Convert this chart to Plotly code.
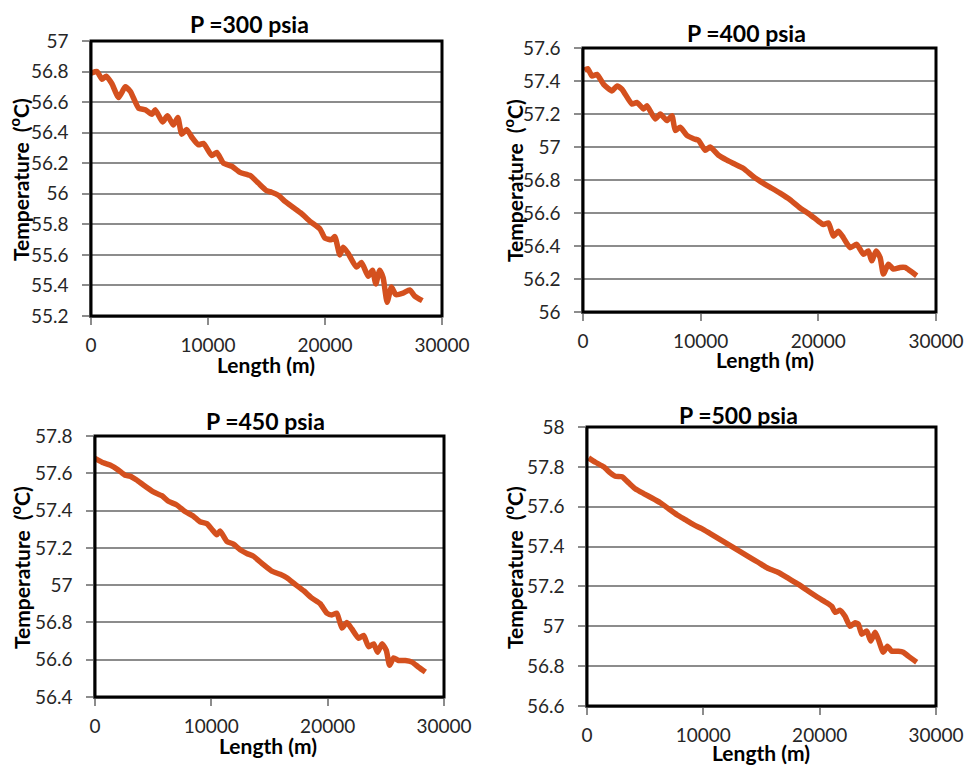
import plotly.graph_objects as go

# ---------------- data ----------------
len_300 = [0, 510, 940, 1310, 1790, 2360, 2930, 3360, 4070, 4640, 5200, 5490, 6110, 6540, 7050, 7420,
           7760, 8190, 8620, 9190, 9610, 10320, 10750, 11320, 12030, 12740, 13590, 14300, 15010, 15440,
           16010, 16580, 17290, 18000, 18710, 19570, 19990, 20560, 20840, 21270, 21560, 21980, 22690,
           23120, 23690, 24060, 24340, 24680, 24970, 25310, 25680, 26050, 26670, 27240, 27670, 28320]
temp_300 = [56.79, 56.80, 56.75, 56.77, 56.72, 56.63, 56.70, 56.67, 56.56, 56.55, 56.52, 56.55, 56.47, 56.51,
            56.45, 56.50, 56.39, 56.42, 56.37, 56.32, 56.33, 56.25, 56.27, 56.20, 56.18, 56.14, 56.12, 56.07,
            56.02, 56.01, 55.99, 55.95, 55.91, 55.87, 55.82, 55.77, 55.71, 55.70, 55.72, 55.60, 55.65, 55.61,
            55.52, 55.55, 55.46, 55.50, 55.41, 55.50, 55.45, 55.29, 55.39, 55.34, 55.35, 55.37, 55.33, 55.30]

len_400 = [100, 400, 760, 1190, 1750, 2460, 2890, 3310, 4160, 4580, 5150, 5430, 6140, 6570, 7130, 7560,
           7840, 8260, 8830, 9400, 9820, 10390, 10810, 11520, 12230, 12790, 13640, 14490, 15340, 16050,
           16750, 17600, 18450, 19300, 20010, 20430, 20860, 21280, 21710, 22130, 22700, 23260, 23830,
           24250, 24540, 24910, 25250, 25530, 25950, 26380, 26940, 27370, 27790, 28360]
temp_400 = [57.465, 57.475, 57.43, 57.44, 57.38, 57.34, 57.37, 57.35, 57.26, 57.27, 57.23, 57.25, 57.17,
            57.20, 57.16, 57.19, 57.10, 57.12, 57.07, 57.05, 57.04, 56.98, 57.00, 56.95, 56.92, 56.90,
            56.87, 56.82, 56.78, 56.75, 56.72, 56.68, 56.63, 56.59, 56.55, 56.53, 56.54, 56.46, 56.49,
            56.45, 56.39, 56.41, 56.35, 56.37, 56.31, 56.37, 56.33, 56.23, 56.29, 56.26, 56.27, 56.27,
            56.25, 56.22]

len_450 = [0, 720, 1290, 2010, 2580, 3010, 3580, 4160, 5020, 5740, 6310, 7030, 7740, 8460, 9030, 9610,
           10040, 10470, 10750, 11330, 11900, 12480, 13050, 13620, 14480, 15200, 15920, 16490, 17210,
           17930, 18650, 19360, 19930, 20360, 20790, 21220, 21650, 22080, 22660, 23090, 23520, 23950,
           24290, 24660, 25040, 25320, 25670, 26100, 26670, 27250, 27820, 28400]
temp_450 = [57.68, 57.656, 57.644, 57.617, 57.59, 57.585, 57.564, 57.537, 57.50, 57.48, 57.45, 57.43,
            57.395, 57.37, 57.34, 57.33, 57.30, 57.27, 57.29, 57.235, 57.22, 57.19, 57.17, 57.155, 57.11,
            57.075, 57.058, 57.04, 57.004, 56.97, 56.93, 56.90, 56.85, 56.84, 56.85, 56.77, 56.80, 56.765,
            56.715, 56.73, 56.67, 56.685, 56.64, 56.685, 56.65, 56.57, 56.61, 56.596, 56.596, 56.587,
            56.56, 56.534]

len_500 = [140, 720, 1430, 2000, 2430, 3010, 3580, 4150, 4870, 5580, 6300, 7010, 7730, 8440, 9160, 9870,
           10590, 11310, 12170, 13030, 13880, 14740, 15600, 16460, 17320, 18180, 19040, 19900, 20610,
           21040, 21330, 21760, 22180, 22610, 23040, 23330, 23620, 24050, 24390, 24760, 25040, 25470,
           25820, 26190, 26760, 27190, 27620, 28340]
temp_500 = [57.845, 57.823, 57.80, 57.77, 57.753, 57.75, 57.72, 57.69, 57.666, 57.644, 57.62, 57.59,
            57.56, 57.535, 57.51, 57.49, 57.465, 57.44, 57.41, 57.38, 57.35, 57.32, 57.29, 57.27, 57.24,
            57.21, 57.176, 57.143, 57.118, 57.10, 57.07, 57.08, 57.05, 57.00, 57.018, 57.01, 56.96,
            56.976, 56.926, 56.97, 56.935, 56.87, 56.90, 56.875, 56.875, 56.87, 56.85, 56.82]

titles = ["P =300 psia", "P =400 psia", "P =450 psia", "P =500 psia"]
x_ticks = [0, 10000, 20000, 30000]
x_ticktext = ["0", "10000", "20000", "30000"]
y_ticks_300 = [55.2, 55.4, 55.6, 55.8, 56.0, 56.2, 56.4, 56.6, 56.8, 57.0]
y_ticktext_300 = ["55.2", "55.4", "55.6", "55.8", "56", "56.2", "56.4", "56.6", "56.8", "57"]
y_ticks_400 = [56.0, 56.2, 56.4, 56.6, 56.8, 57.0, 57.2, 57.4, 57.6]
y_ticktext_400 = ["56", "56.2", "56.4", "56.6", "56.8", "57", "57.2", "57.4", "57.6"]
y_ticks_450 = [56.4, 56.6, 56.8, 57.0, 57.2, 57.4, 57.6, 57.8]
y_ticktext_450 = ["56.4", "56.6", "56.8", "57", "57.2", "57.4", "57.6", "57.8"]
y_ticks_500 = [56.6, 56.8, 57.0, 57.2, 57.4, 57.6, 57.8, 58.0]
y_ticktext_500 = ["56.6", "56.8", "57", "57.2", "57.4", "57.6", "57.8", "58"]
x_title = "Length (m)"
y_title = "Temperature  (<sup>o</sup>C)"

# ---------------- layout helpers ----------------
W, H = 967, 765
FONT = "Lato"
LINE_COLOR = "#D4501E"
LABEL_PAD = "\u00a0" * 2      # gap between y tick labels and the axis


def px_x(p):
    return p / W


def px_y(p):
    return 1 - p / H


# plot-area boxes in page pixels: left, right, top, bottom
boxes = [(91, 442, 41, 316), (583, 936, 48, 312), (95, 444, 436, 697), (587, 936, 427, 706)]
title_pos = [(249, 24), (746, 33), (265, 421), (738, 415)]
xtitle_pos = [(266, 364), (765, 359), (268, 745), (761, 752)]
ytitle_pos = [(19, 180), (513, 181), (20, 568), (513, 568)]

series = [(len_300, temp_300, y_ticks_300, y_ticktext_300),
          (len_400, temp_400, y_ticks_400, y_ticktext_400),
          (len_450, temp_450, y_ticks_450, y_ticktext_450),
          (len_500, temp_500, y_ticks_500, y_ticktext_500)]

fig = go.Figure()
layout = dict(width=W, height=H, margin=dict(l=0, r=0, t=0, b=0, autoexpand=False),
              paper_bgcolor="white", plot_bgcolor="white", showlegend=False,
              font=dict(family=FONT, color="#262626"))
annotations = []
shapes = []

for i, (xs, ys, yt, ytt) in enumerate(series):
    n = "" if i == 0 else str(i + 1)
    l, r, t, b = boxes[i]
    fig.add_trace(go.Scatter(x=xs, y=ys, mode="lines", xaxis="x" + n, yaxis="y" + n,
                             line=dict(color=LINE_COLOR, width=5.5, shape="spline", smoothing=0.5),
                             hoverinfo="skip"))
    layout["xaxis" + n] = dict(domain=[px_x(l), px_x(r)], anchor="y" + n, range=[0, 30000],
                               tickvals=x_ticks, ticktext=x_ticktext, showgrid=False, zeroline=False,
                               showline=True, linecolor="#8c8c8c", linewidth=2,
                               ticks="outside", ticklen=7, tickwidth=2, tickcolor="#8c8c8c",
                               ticklabelstandoff=4,
                               tickfont=dict(family=FONT, size=19, color="#262626"))
    layout["yaxis" + n] = dict(domain=[px_y(b), px_y(t)], anchor="x" + n,
                               range=[yt[0], yt[-1]], tickvals=yt,
                               ticktext=[s + LABEL_PAD for s in ytt],
                               showgrid=True, gridcolor="#8c8c8c", gridwidth=2, zeroline=False,
                               showline=True, linecolor="#8c8c8c", linewidth=2,
                               ticks="outside", ticklen=7, tickwidth=2, tickcolor="#8c8c8c",
                               tickfont=dict(family=FONT, size=19, color="#262626"))
    shapes.append(dict(type="rect", xref="x" + n + " domain", yref="y" + n + " domain",
                       x0=0, x1=1, y0=0, y1=1, line=dict(color="black", width=3), layer="above"))
    tx, ty = title_pos[i]
    annotations.append(dict(text="<b>" + titles[i] + "</b>", x=px_x(tx), y=px_y(ty), xref="paper",
                            yref="paper", showarrow=False, xanchor="center", yanchor="middle",
                            font=dict(family=FONT, size=23, color="black")))
    xx, xy = xtitle_pos[i]
    annotations.append(dict(text="<b>" + x_title + "</b>", x=px_x(xx), y=px_y(xy), xref="paper",
                            yref="paper", showarrow=False, xanchor="center", yanchor="middle",
                            font=dict(family=FONT, size=21, color="black")))
    yx, yy = ytitle_pos[i]
    annotations.append(dict(text="<b>" + y_title + "</b>", x=px_x(yx), y=px_y(yy), xref="paper",
                            yref="paper", showarrow=False, xanchor="center", yanchor="middle",
                            textangle=-90, font=dict(family=FONT, size=21, color="black")))

layout["annotations"] = annotations
layout["shapes"] = shapes
fig.update_layout(**layout)
fig.write_html("out.html", config={"displayModeBar": False},
               post_script="document.body.style.margin='0';document.body.style.overflow='hidden';")
